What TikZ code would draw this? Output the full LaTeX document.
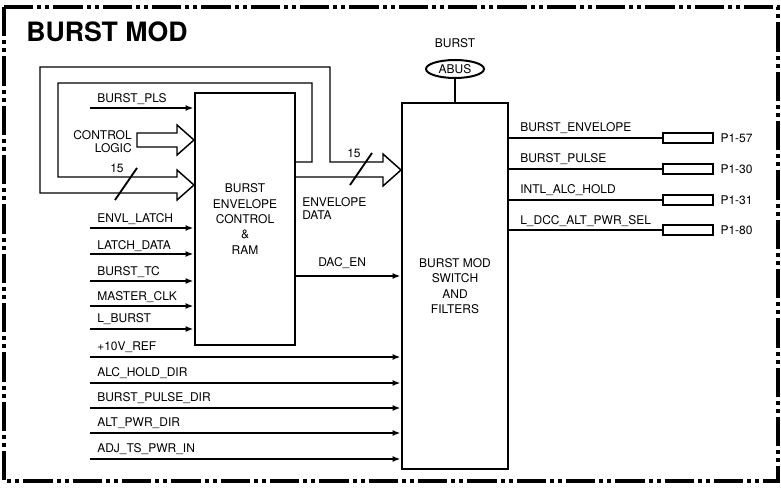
\documentclass[tikz,border=0pt]{standalone}
\usepackage{fontspec}
\setmainfont{TeX Gyre Heros}
\usetikzlibrary{positioning,arrows.meta,shapes.geometric}

\begin{document}
\begin{tikzpicture}[x=0.75pt,y=-0.75pt,font=\fontsize{9}{11.6}\selectfont,
    lbl/.style={anchor=base west,inner sep=0pt},
    blk/.style={draw,line width=2.2pt,align=center,inner sep=0pt},
    sig/.style={line width=1.4pt,-{Latex[length=6pt,width=4.5pt]}},
    wire/.style={line width=1.3pt},
    bus/.style={line width=1.1pt,line join=miter},
    pinbox/.style={draw,line width=0.9pt,minimum width=37.5pt,minimum height=7.5pt,inner sep=0pt}]
        \useasboundingbox (0,0) rectangle (781,488);
        % frame
        \draw[line width=2.6pt,dash pattern=on 22pt off 3pt on 3pt off 3pt on 3pt off 3pt] (4,7) rectangle (778,481);
        \node[lbl,font=\bfseries\fontsize{20}{24}\selectfont] (title) at (26,42) {BURST MOD};
        % blocks
        \node[blk,minimum width=75pt,minimum height=189pt] (env) at (245,219) {BURST\\ENVELOPE\\CONTROL\\\&\\RAM};
        \node[blk,minimum width=79.5pt,minimum height=274.5pt] (sw) at (455,286) {BURST MOD\\SWITCH\\AND\\FILTERS};
        \node[draw,ellipse,line width=1.5pt,minimum width=43.5pt,minimum height=13.5pt,inner sep=0pt] (abus) at (455,69) {ABUS};
        \node[above=8.5pt of abus,inner sep=0pt] (burst) {BURST};
        \draw[wire] (abus) -- (sw);
        % envelope data bus, fed back and forward
        \draw[bus] (295,177) -- (383,177) -- (383,186) -- (401,170) -- (383,154) -- (383,162) -- (330,162)
          -- (330,67) -- (40,67) -- (40,193) -- (177,193) -- (177,200) -- (194,185) -- (177,170) -- (177,177)
          -- (58,177) -- (58,83) -- (312,83) -- (312,162) -- (295,162);
        \draw[line width=1.4pt] (350,185) -- (372,153);
        \node[lbl] (w15a) at (347,158) {15};
        \draw[line width=1.4pt] (115,200) -- (137,168);
        \node[lbl] (w15b) at (110,173) {15};
        \node[anchor=north west,align=left,inner sep=0pt,font=\fontsize{9}{10}\selectfont] (envdata) at (302,197) {ENVELOPE\\DATA};
        % control logic
        \draw[bus] (177,133) -- (137,133) -- (137,147) -- (177,147) -- (177,155) -- (194,140) -- (177,125) -- cycle;
        \node[anchor=north east,align=right,inner sep=0pt,font=\fontsize{9}{10}\selectfont] (ctl) at (132,130) {CONTROL\\LOGIC};
        % inputs to envelope control
        \node[lbl] (lPLS) at (97,103) {BURST\_PLS};
        \draw[sig] (90,108) coordinate (iPLS) -- (iPLS -| env.west);
        \node[lbl] (lENVL) at (97,223) {ENVL\_LATCH};
        \draw[sig] (90,228) coordinate (iENVL) -- (iENVL -| env.west);
        \node[lbl] (lLD) at (97,249) {LATCH\_DATA};
        \draw[sig] (90,254) coordinate (iLD) -- (iLD -| env.west);
        \node[lbl] (lTC) at (97,275) {BURST\_TC};
        \draw[sig] (90,281) coordinate (iTC) -- (iTC -| env.west);
        \node[lbl] (lCLK) at (97,300) {MASTER\_CLK};
        \draw[sig] (90,306) coordinate (iCLK) -- (iCLK -| env.west);
        \node[lbl] (lLB) at (97,322) {L\_BURST};
        \draw[sig] (90,329) coordinate (iLB) -- (iLB -| env.west);
        % inputs to switch
        \node[lbl] (lREF) at (97,350) {+10V\_REF};
        \draw[sig] (90,357) coordinate (iREF) -- (iREF -| sw.west);
        \node[lbl] (lAHD) at (97,376) {ALC\_HOLD\_DIR};
        \draw[sig] (90,383) coordinate (iAHD) -- (iAHD -| sw.west);
        \node[lbl] (lBPD) at (97,401) {BURST\_PULSE\_DIR};
        \draw[sig] (90,408) coordinate (iBPD) -- (iBPD -| sw.west);
        \node[lbl] (lAPD) at (97,426) {ALT\_PWR\_DIR};
        \draw[sig] (90,433) coordinate (iAPD) -- (iAPD -| sw.west);
        \node[lbl] (lATS) at (97,452) {ADJ\_TS\_PWR\_IN};
        \draw[sig] (90,459) coordinate (iATS) -- (iATS -| sw.west);
        \node[lbl] (lDAC) at (318,267) {DAC\_EN};
        \draw[sig] (env.east |- 0,276) -- (sw.west |- 0,276);
        % outputs
        \node[pinbox] (p57) at (688,138) {};
        \node[pinbox] (p30) at (688,169) {};
        \node[pinbox] (p31) at (688,200) {};
        \node[pinbox] (p80) at (688,230) {};
        \node[right=5pt of p57,inner sep=0pt] (t57) {P1-57};
        \node[right=5pt of p30,inner sep=0pt] (t30) {P1-30};
        \node[right=5pt of p31,inner sep=0pt] (t31) {P1-31};
        \node[right=5pt of p80,inner sep=0pt] (t80) {P1-80};
        \draw[wire] (sw.east |- p57) -- (p57);
        \draw[wire] (sw.east |- p30) -- (p30);
        \draw[wire] (sw.east |- p31) -- (p31);
        \draw[wire] (sw.east |- p80) -- (p80);
        \node[lbl] (oENV) at (520,132) {BURST\_ENVELOPE};
        \node[lbl] (oPUL) at (520,163) {BURST\_PULSE};
        \node[lbl] (oHLD) at (520,194) {INTL\_ALC\_HOLD};
        \node[lbl] (oSEL) at (520,224) {L\_DCC\_ALT\_PWR\_SEL};
      \end{tikzpicture}
\end{document}
